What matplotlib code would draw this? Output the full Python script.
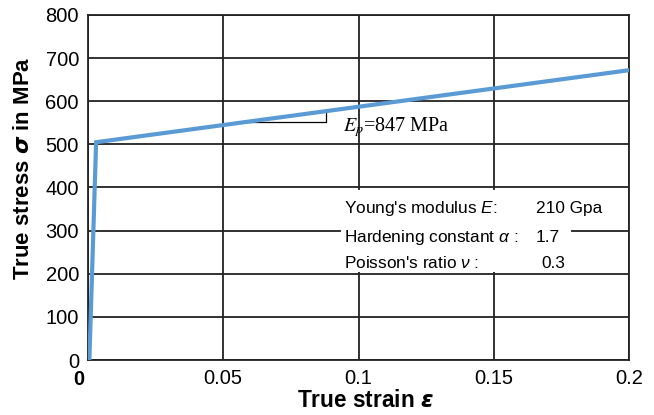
import matplotlib.pyplot as plt
from matplotlib.patches import Rectangle

plt.rcParams['font.family'] = ['Liberation Sans', 'DejaVu Sans']
plt.rcParams['mathtext.fontset'] = 'custom'
plt.rcParams['mathtext.it'] = 'Liberation Sans:italic'
plt.rcParams['mathtext.bf'] = 'Liberation Sans:bold'

# stress-strain curve (true strain, true stress in MPa)
strain = [0.0005, 0.003, 0.2]
stress = [0, 505, 672]

xticks = [0, 0.05, 0.1, 0.15, 0.2]
xtick_labels = ['', '0.05', '0.1', '0.15', '0.2']
yticks = [0, 100, 200, 300, 400, 500, 600, 700, 800]

# slope triangle for the plastic modulus
tri_x = [0.058, 0.0881, 0.0881]
tri_y = [551.6, 551.6, 577]

props = ["Young's modulus $E$:", "Hardening constant $\\alpha$ :", "Poisson's ratio $\\nu$ :"]
prop_vals = ['210 Gpa', '1.7', '0.3']
val_x = [0.1656, 0.1656, 0.1677]
rows_y = [341.6, 273.6, 212.6]

W, H = 654, 415
fig = plt.figure(figsize=(6.54, 4.15), dpi=100)
ax = fig.add_axes([88 / W, 55 / H, 541 / W, 345 / H])

ax.set_xlim(0, 0.2)
ax.set_ylim(0, 800)
ax.set_xticks(xticks)
ax.set_xticklabels(xtick_labels)
ax.set_yticks(yticks)
ax.tick_params(length=0, labelsize=14.5, pad=6.5)
ax.grid(True, color='#222222', linewidth=1.3)
ax.set_axisbelow(True)
for s in ax.spines.values():
    s.set_color('#222222')
    s.set_linewidth(1.3)

# white area behind the property table
ax.add_patch(Rectangle((0.0937, 204), 0.0848, 190, facecolor='white',
                       edgecolor='none', zorder=1.5))

ax.plot(tri_x, tri_y, color='black', linewidth=0.9, zorder=2)
ax.plot(strain, stress, color='#5b9bd5', linewidth=3, zorder=3,
        solid_joinstyle='miter')

ax.text(0.0944, 529.4, r'$E_p$=847 MPa', fontsize=14.5, family='Liberation Serif',
        va='baseline', ha='left', zorder=4, math_fontfamily='stix')

for lab, val, vx, y in zip(props, prop_vals, val_x, rows_y):
    ax.text(0.0948, y, lab, fontsize=12.4, va='baseline', ha='left', zorder=4)
    ax.text(vx, y, val, fontsize=12.4, va='baseline', ha='left', zorder=4)

fig.text(78.5 / W, 1 - 379 / H, '0', fontsize=14.5, fontweight='bold',
         ha='center', va='center')

fig.text(365 / W, 1 - 400 / H, r'True strain $\mathbfit{\varepsilon}$', fontsize=16.3,
         fontweight='bold', ha='center', va='center')
fig.text(24 / W, 1 - 168.5 / H, r'True stress $\mathbfit{\sigma}$ in MPa', fontsize=16,
         fontweight='bold', ha='center', va='center', rotation=90)

fig.savefig('out.png', dpi=100)
